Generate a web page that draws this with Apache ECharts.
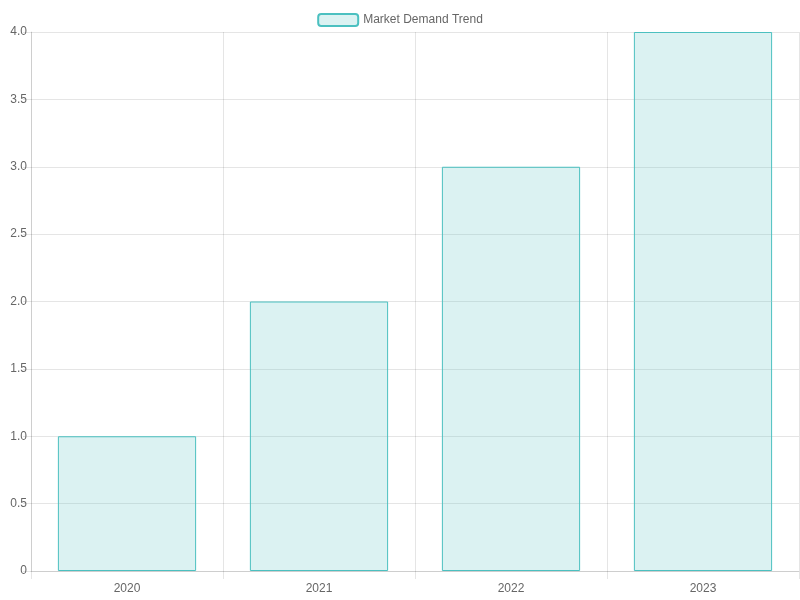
<!DOCTYPE html>
<html><head><meta charset="utf-8">
<script src="https://cdn.jsdelivr.net/npm/echarts@6/dist/echarts.min.js"></script>
<style>html,body{margin:0;padding:0;}#c{width:800px;height:600px;}</style>
</head><body><div id="c"></div>
<script>
const categories = ['2020','2021','2022','2023'];
const seriesName = 'Market Demand Trend';
const values = [1, 2, 3, 4];
const gridColor = 'rgba(0,0,0,0.1)';
const chart = echarts.init(document.getElementById('c'));
chart.setOption({
  animation: false,
  textStyle: {fontFamily: 'Liberation Sans, Arial, sans-serif'},
  legend: {top: 8, left: 'center', itemWidth: 40, itemHeight: 12, itemGap: 10,
    textStyle: {color: '#666', fontSize: 12}, data: [seriesName]},
  grid: {left: 31, right: 1, top: 32, bottom: 29},
  xAxis: {type: 'category', data: categories, boundaryGap: true,
    axisLine: {lineStyle: {color: gridColor}},
    axisTick: {show: true, length: 8, lineStyle: {color: gridColor}},
    splitLine: {show: true, lineStyle: {color: gridColor}},
    axisLabel: {color: '#666', fontSize: 12, margin: 12}},
  yAxis: {type: 'value', min: 0, max: 4, interval: 0.5,
    axisLine: {show: true, lineStyle: {color: gridColor}},
    axisTick: {show: true, length: 8, lineStyle: {color: gridColor}},
    splitLine: {show: true, lineStyle: {color: gridColor}},
    axisLabel: {color: '#666', fontSize: 12, margin: 4,
      formatter: v => v === 0 ? '0' : v.toFixed(1)}},
  series: [{name: seriesName, type: 'bar', data: values, barWidth: '72%',
    itemStyle: {color: 'rgba(75,192,192,0.2)', borderColor: 'rgb(75,192,192)', borderWidth: 1}}]
});
</script></body></html>
